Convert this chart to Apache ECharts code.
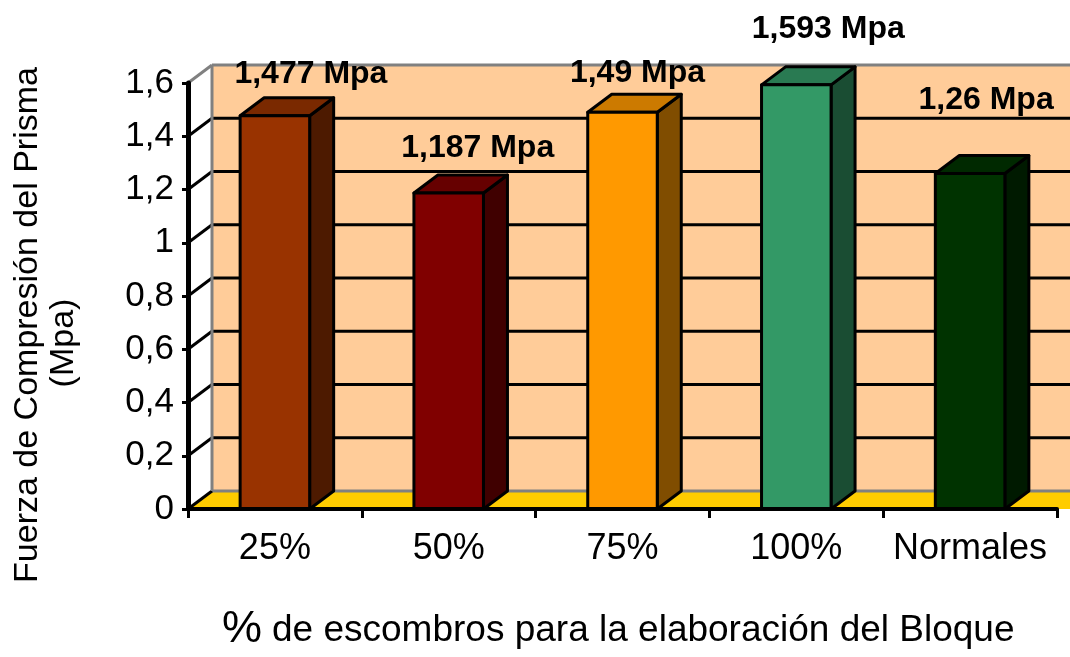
<!DOCTYPE html>
<html>
<head>
<meta charset="utf-8">
<script src="https://cdn.jsdelivr.net/npm/echarts@6/dist/echarts.min.js"></script>
<style>
  html, body { margin: 0; padding: 0; background: #fff; }
  #chart { width: 1070px; height: 657px; }
</style>
</head>
<body>
<div id="chart"></div>
<script>
"use strict";

// datos del gráfico
const categories = ["25%", "50%", "75%", "100%", "Normales"];
const values = [1.477, 1.187, 1.49, 1.593, 1.26];
const yTicks = [0, 0.2, 0.4, 0.6, 0.8, 1, 1.2, 1.4, 1.6];

// colores de cada barra: frente, lateral, tapa
const frontColors = ["#993300", "#800000", "#FF9900", "#339966", "#003300"];
const sideColors = ["#4D1A00", "#400000", "#804D00", "#1A4D33", "#001A00"];
const topColors = ["#7A2900", "#660000", "#CC7A00", "#297A52", "#002900"];

// desplazamiento de las etiquetas respecto a la tapa de la barra
const labelShift = [[24, -24], [17, -27], [3, -21], [20, -38], [4, -55]];

const FONT = '"Liberation Sans", Arial, sans-serif';
const DX = 24, DY = -18; // profundidad 3D

const myChart = echarts.init(document.getElementById("chart"));

// pared del fondo, piso y líneas de división
function renderWalls(params, api) {
    const cs = params.coordSys;
    const x0 = cs.x, x1 = cs.x + cs.width + 60;
    const yBot = api.coord([0, 0])[1];
    const yTop = api.coord([0, yTicks[yTicks.length - 1]])[1];
    const children = [];
    children.push({
        type: "polygon",
        shape: { points: [[x0 + DX, yTop + DY], [x1 + DX, yTop + DY], [x1 + DX, yBot + DY], [x0 + DX, yBot + DY]] },
        style: { fill: "#FFCC99" }
    });
    children.push({
        type: "polygon",
        shape: { points: [[x0, yBot], [x1, yBot], [x1 + DX, yBot + DY], [x0 + DX, yBot + DY]] },
        style: { fill: "#FFCC00" }
    });
    yTicks.forEach(function (t, i) {
        const y = api.coord([0, t])[1];
        const edge = (i === 0 || i === yTicks.length - 1);
        children.push({
            type: "polyline",
            shape: { points: [[x0 + DX, y + DY], [x1 + DX, y + DY]] },
            style: { stroke: edge ? "#808080" : "#000", lineWidth: 3, fill: null }
        });
        children.push({
            type: "line",
            shape: { x1: x0, y1: y, x2: x0 + DX, y2: y + DY },
            style: { stroke: i === yTicks.length - 1 ? "#808080" : "#000", lineWidth: 3 }
        });
    });
    children.push({
        type: "line",
        shape: { x1: x0 + DX, y1: yTop + DY, x2: x0 + DX, y2: yBot + DY },
        style: { stroke: "#808080", lineWidth: 3 }
    });
    return { type: "group", children: children };
}

// barras en 3D
function renderBar(params, api) {
    const i = api.value(0);
    const v = api.value(1);
    const base = api.coord([i, 0]);
    const top = api.coord([i, v]);
    const w = api.size([1, 0])[0] * 0.4;
    const xl = base[0] - w / 2, xr = base[0] + w / 2;
    const yb = base[1], yt = top[1];
    const line = { stroke: "#000", lineWidth: 3, lineJoin: "round" };
    return {
        type: "group",
        children: [
            {
                type: "polygon",
                shape: { points: [[xr, yt], [xr + DX, yt + DY], [xr + DX, yb + DY], [xr, yb]] },
                style: Object.assign({ fill: sideColors[i] }, line)
            },
            {
                type: "polygon",
                shape: { points: [[xl, yt], [xl + DX, yt + DY], [xr + DX, yt + DY], [xr, yt]] },
                style: Object.assign({ fill: topColors[i] }, line)
            },
            {
                type: "rect",
                shape: { x: xl, y: yt, width: w, height: yb - yt },
                style: Object.assign({ fill: frontColors[i] }, line)
            },
            {
                type: "text",
                z2: 100,
                style: {
                    x: base[0] + DX / 2 + labelShift[i][0],
                    y: yt + DY + labelShift[i][1],
                    text: String(v).replace(".", ",") + " Mpa",
                    fill: "#000",
                    font: "bold 32px " + FONT,
                    align: "center",
                    verticalAlign: "middle"
                }
            }
        ]
    };
}

const option = {
    animation: false,
    backgroundColor: "#fff",
    grid: { left: 188, right: 13, top: 83, bottom: 148 },
    xAxis: {
        type: "category",
        data: categories,
        z: 10,
        axisLine: { lineStyle: { color: "#000", width: 4 } },
        axisTick: { show: true, interval: 0, length: 9, lineStyle: { color: "#000", width: 3 } },
        axisLabel: { color: "#000", fontSize: 36, fontFamily: FONT, margin: 22, interval: 0 }
    },
    yAxis: {
        type: "value",
        min: 0,
        max: 1.6,
        interval: 0.2,
        z: 10,
        splitLine: { show: false },
        axisLine: { show: true, lineStyle: { color: "#000", width: 5 } },
        axisTick: { show: true, length: 6, lineStyle: { color: "#000", width: 3 } },
        axisLabel: {
            color: "#000",
            fontSize: 35,
            fontFamily: FONT,
            margin: 14,
            formatter: function (v) { return String(+v.toFixed(1)).replace(".", ","); }
        }
    },
    graphic: [
        {
            type: "text",
            x: 28, y: 325, rotation: Math.PI / 2,
            style: { text: "Fuerza de Compresión del Prisma", font: "34px " + FONT, fill: "#000", align: "center", verticalAlign: "middle" }
        },
        {
            type: "text",
            x: 64, y: 343, rotation: Math.PI / 2,
            style: { text: "(Mpa)", font: "34px " + FONT, fill: "#000", align: "center", verticalAlign: "middle" }
        },
        {
            type: "text",
            x: 222, y: 630,
            style: { text: "%", font: "45px " + FONT, fill: "#000", align: "left", verticalAlign: "middle" }
        },
        {
            type: "text",
            x: 272, y: 631,
            style: { text: "de escombros para la elaboración del Bloque", font: "37px " + FONT, fill: "#000", align: "left", verticalAlign: "middle" }
        }
    ],
    series: [
        {
            type: "custom",
            z: 1,
            clip: false,
            data: [[0, 0]],
            renderItem: renderWalls
        },
        {
            type: "custom",
            z: 3,
            clip: false,
            data: values.map(function (v, i) { return [i, v]; }),
            renderItem: renderBar
        }
    ]
};

myChart.setOption(option);
</script>
</body>
</html>
